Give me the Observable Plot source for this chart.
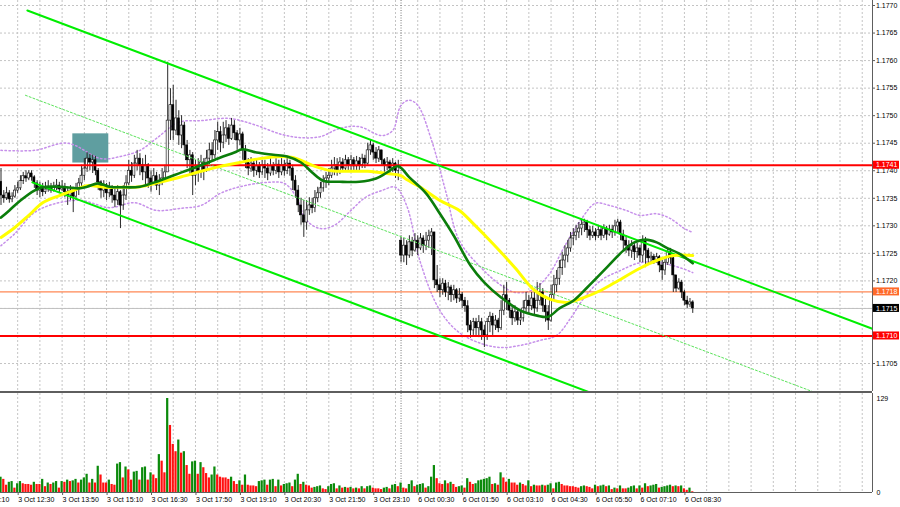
<!DOCTYPE html>
<html><head><meta charset="utf-8">
<script src="https://cdn.jsdelivr.net/npm/d3@7"></script>
<script src="https://cdn.jsdelivr.net/npm/@observablehq/plot@0.6"></script>
<style>
body{margin:0;background:#fff;}
#wrap{width:900px;height:507px;position:relative;overflow:hidden;}
#sep{height:2px;width:872px;background:#5e5e5e;}
svg{display:block;}
</style></head><body><div id="wrap"><div id="main"></div><div id="sep"></div><div id="vol"></div></div>
<script>
// ---------- data (EURUSD M5) ----------
const closes = [1.17355,1.17350,1.17359,1.17348,1.17353,1.17364,1.17368,1.17381,1.17390,1.17386,
1.17395,1.17388,1.17377,1.17364,1.17371,1.17361,1.17366,1.17371,1.17364,1.17370,
1.17373,1.17366,1.17371,1.17361,1.17355,1.17364,1.17353,1.17368,1.17377,1.17391,
1.17404,1.17422,1.17415,1.17419,1.17400,1.17379,1.17364,1.17373,1.17359,1.17370,
1.17355,1.17346,1.17361,1.17337,1.17355,1.17377,1.17400,1.17391,1.17413,1.17422,
1.17410,1.17397,1.17410,1.17386,1.17377,1.17390,1.17373,1.17379,1.17386,1.17397,
1.17491,1.17519,1.17473,1.17495,1.17464,1.17482,1.17446,1.17419,1.17428,1.17391,
1.17404,1.17397,1.17415,1.17400,1.17422,1.17437,1.17428,1.17455,1.17470,1.17451,
1.17464,1.17477,1.17458,1.17482,1.17468,1.17455,1.17466,1.17437,1.17415,1.17404,
1.17413,1.17400,1.17408,1.17397,1.17410,1.17404,1.17395,1.17408,1.17400,1.17411,
1.17397,1.17410,1.17400,1.17413,1.17404,1.17382,1.17364,1.17337,1.17319,1.17306,
1.17328,1.17337,1.17332,1.17350,1.17359,1.17368,1.17379,1.17386,1.17391,1.17404,
1.17410,1.17400,1.17415,1.17404,1.17419,1.17410,1.17419,1.17408,1.17417,1.17410,
1.17422,1.17413,1.17437,1.17446,1.17433,1.17422,1.17437,1.17419,1.17410,1.17415,
1.17404,1.17413,1.17400,1.17408,1.17246,1.17264,1.17246,1.17270,1.17255,1.17273,
1.17259,1.17277,1.17264,1.17273,1.17281,1.17288,1.17201,1.17192,1.17183,1.17195,
1.17179,1.17188,1.17174,1.17183,1.17168,1.17175,1.17164,1.17154,1.17119,1.17110,
1.17125,1.17114,1.17125,1.17110,1.17101,1.17125,1.17135,1.17119,1.17128,1.17114,
1.17146,1.17174,1.17164,1.17146,1.17132,1.17143,1.17128,1.17132,1.17150,1.17164,
1.17154,1.17168,1.17150,1.17164,1.17179,1.17155,1.17143,1.17128,1.17174,1.17192,
1.17204,1.17223,1.17237,1.17246,1.17259,1.17277,1.17282,1.17288,1.17295,1.17302,
1.17306,1.17292,1.17282,1.17288,1.17281,1.17292,1.17282,1.17295,1.17284,1.17293,
1.17288,1.17299,1.17306,1.17284,1.17273,1.17264,1.17255,1.17263,1.17252,1.17259,
1.17246,1.17273,1.17255,1.17241,1.17244,1.17237,1.17243,1.17228,1.17219,1.17233,
1.17252,1.17241,1.17210,1.17186,1.17197,1.17179,1.17164,1.17157,1.17161,1.17150];
const highs = [1.17404,1.17364,1.17370,1.17364,1.17360,1.17373,1.17379,1.17391,1.17397,1.17400,
1.17400,1.17400,1.17391,1.17382,1.17379,1.17377,1.17379,1.17382,1.17377,1.17379,
1.17384,1.17379,1.17382,1.17377,1.17370,1.17373,1.17370,1.17377,1.17386,1.17410,
1.17422,1.17433,1.17430,1.17428,1.17426,1.17404,1.17382,1.17382,1.17377,1.17379,
1.17373,1.17368,1.17373,1.17364,1.17373,1.17391,1.17419,1.17415,1.17428,1.17437,
1.17431,1.17422,1.17428,1.17413,1.17400,1.17404,1.17397,1.17393,1.17404,1.17410,
1.17597,1.17549,1.17555,1.17528,1.17509,1.17500,1.17488,1.17455,1.17437,1.17433,
1.17419,1.17422,1.17428,1.17422,1.17437,1.17450,1.17451,1.17473,1.17488,1.17480,
1.17488,1.17491,1.17484,1.17495,1.17491,1.17473,1.17477,1.17470,1.17446,1.17422,
1.17424,1.17419,1.17420,1.17415,1.17419,1.17419,1.17413,1.17422,1.17415,1.17422,
1.17419,1.17422,1.17419,1.17424,1.17419,1.17410,1.17391,1.17373,1.17350,1.17346,
1.17346,1.17351,1.17350,1.17364,1.17370,1.17379,1.17391,1.17397,1.17404,1.17419,
1.17424,1.17422,1.17424,1.17422,1.17428,1.17424,1.17428,1.17424,1.17426,1.17424,
1.17430,1.17428,1.17450,1.17455,1.17450,1.17442,1.17444,1.17437,1.17422,1.17424,
1.17419,1.17422,1.17415,1.17419,1.17279,1.17277,1.17273,1.17282,1.17279,1.17286,
1.17282,1.17286,1.17282,1.17288,1.17292,1.17295,1.17288,1.17228,1.17204,1.17204,
1.17201,1.17197,1.17192,1.17192,1.17186,1.17186,1.17179,1.17170,1.17164,1.17128,
1.17132,1.17132,1.17137,1.17132,1.17119,1.17132,1.17143,1.17141,1.17137,1.17132,
1.17164,1.17192,1.17197,1.17168,1.17155,1.17155,1.17150,1.17146,1.17164,1.17179,
1.17174,1.17179,1.17183,1.17197,1.17195,1.17186,1.17168,1.17155,1.17192,1.17210,
1.17219,1.17237,1.17252,1.17264,1.17273,1.17288,1.17295,1.17301,1.17306,1.17312,
1.17312,1.17310,1.17299,1.17299,1.17295,1.17301,1.17297,1.17302,1.17299,1.17301,
1.17301,1.17310,1.17312,1.17310,1.17292,1.17282,1.17273,1.17273,1.17268,1.17268,
1.17264,1.17282,1.17279,1.17259,1.17252,1.17248,1.17250,1.17246,1.17237,1.17241,
1.17259,1.17259,1.17246,1.17210,1.17204,1.17201,1.17183,1.17172,1.17168,1.17164];
const lows = [1.17337,1.17341,1.17346,1.17341,1.17342,1.17350,1.17359,1.17364,1.17375,1.17379,
1.17382,1.17381,1.17368,1.17355,1.17351,1.17353,1.17357,1.17361,1.17359,1.17361,
1.17364,1.17359,1.17362,1.17351,1.17337,1.17346,1.17324,1.17346,1.17355,1.17371,
1.17382,1.17397,1.17400,1.17395,1.17391,1.17364,1.17350,1.17351,1.17346,1.17351,
1.17341,1.17333,1.17337,1.17295,1.17328,1.17346,1.17373,1.17379,1.17386,1.17400,
1.17391,1.17382,1.17373,1.17368,1.17361,1.17373,1.17364,1.17355,1.17373,1.17379,
1.17397,1.17455,1.17455,1.17464,1.17446,1.17440,1.17428,1.17404,1.17391,1.17355,
1.17373,1.17379,1.17386,1.17382,1.17397,1.17410,1.17415,1.17422,1.17437,1.17433,
1.17440,1.17451,1.17446,1.17455,1.17455,1.17437,1.17446,1.17419,1.17404,1.17391,
1.17397,1.17388,1.17391,1.17386,1.17391,1.17386,1.17382,1.17390,1.17391,1.17393,
1.17386,1.17391,1.17390,1.17393,1.17390,1.17364,1.17350,1.17324,1.17301,1.17279,
1.17292,1.17319,1.17322,1.17324,1.17342,1.17350,1.17361,1.17368,1.17373,1.17386,
1.17391,1.17390,1.17393,1.17397,1.17400,1.17397,1.17400,1.17397,1.17400,1.17400,
1.17404,1.17404,1.17410,1.17428,1.17419,1.17413,1.17415,1.17410,1.17397,1.17400,
1.17395,1.17397,1.17386,1.17382,1.17233,1.17233,1.17228,1.17241,1.17244,1.17252,
1.17246,1.17255,1.17250,1.17255,1.17259,1.17246,1.17186,1.17179,1.17170,1.17174,
1.17170,1.17164,1.17161,1.17164,1.17159,1.17161,1.17150,1.17143,1.17106,1.17096,
1.17101,1.17101,1.17097,1.17092,1.17079,1.17092,1.17106,1.17101,1.17110,1.17106,
1.17110,1.17137,1.17146,1.17132,1.17119,1.17125,1.17119,1.17119,1.17125,1.17143,
1.17139,1.17146,1.17137,1.17143,1.17155,1.17143,1.17125,1.17110,1.17125,1.17164,
1.17179,1.17192,1.17210,1.17223,1.17233,1.17252,1.17264,1.17273,1.17277,1.17282,
1.17288,1.17277,1.17273,1.17277,1.17273,1.17277,1.17273,1.17277,1.17273,1.17281,
1.17277,1.17281,1.17288,1.17273,1.17255,1.17250,1.17244,1.17241,1.17237,1.17241,
1.17233,1.17233,1.17224,1.17228,1.17233,1.17230,1.17232,1.17215,1.17201,1.17210,
1.17228,1.17230,1.17179,1.17179,1.17183,1.17168,1.17155,1.17150,1.17152,1.17141];
const volumes = [21,18,10,14,15,6,12,15,12,11, 11,10,14,11,11,18,8,13,11,13,
15,6,15,14,17,15,16,18,13,17, 20,25,13,18,13,36,24,13,13,17,
11,10,39,41,20,35,31,17,28,29, 17,34,35,17,27,24,19,52,43,27,
129,92,66,56,72,54,56,37,25,42, 43,25,41,34,26,20,24,35,24,21,
20,20,18,21,15,11,16,10,24,10, 9,9,8,15,16,17,10,17,18,8,
17,9,11,12,13,8,17,25,11,14, 10,9,6,7,8,9,5,4,8,11,
12,5,9,6,7,6,7,5,6,5, 8,5,8,9,6,5,5,4,6,7,
5,10,11,8,13,6,5,11,16,8, 10,11,12,6,8,21,37,19,12,11,
16,12,14,11,7,8,9,6,19,14, 11,12,16,17,18,19,21,11,12,10,
27,20,14,18,13,13,10,13,11,9, 16,8,10,9,9,10,9,10,12,5,
13,14,11,9,9,8,8,7,6,8, 9,8,7,5,10,8,9,10,8,9,
4,6,5,9,5,5,6,8,9,5, 9,6,12,8,9,10,11,6,7,8,
9,10,8,9,8,9,5,3,6,1];
const firstOpen = 1.17380;      // open of the first visible bar
const gapIndex = 144;           // first bar of 6 Oct (weekend gap)
const gapOpen = 1.17273;

// moving averages and envelope bands (bar index, price)
const maFastIdx = [0,3,7,12,15,21,28,31,35,39,44,50,57,65,72,79,84,87,92,98,103,108,112,116,122,129,135,139,143,147,153,158,163,169,174,180,187,193,197,201,206,211,218,224,228,232,236,240,244,249];
const maFastVal = [1.17315,1.17328,1.17346,1.17364,1.17370,1.17371,1.17368,1.17371,1.17377,1.17371,1.17370,1.17371,1.17382,1.17397,1.17410,1.17424,1.17433,1.17439,1.17433,1.17429,1.17426,1.17415,1.17397,1.17382,1.17380,1.17380,1.17386,1.17397,1.17408,1.17388,1.17359,1.17322,1.17282,1.17228,1.17197,1.17170,1.17146,1.17137,1.17135,1.17150,1.17164,1.17188,1.17224,1.17255,1.17270,1.17275,1.17270,1.17259,1.17250,1.17232];
const maSlowIdx = [0,5,10,15,21,26,31,37,43,50,57,65,72,79,86,93,101,105,108,113,119,126,132,139,144,146,151,158,165,170,177,185,192,198,204,210,216,221,230,236,242,249];
const maSlowVal = [1.17279,1.17297,1.17319,1.17342,1.17355,1.17364,1.17373,1.17370,1.17370,1.17371,1.17379,1.17389,1.17399,1.17408,1.17415,1.17422,1.17426,1.17424,1.17419,1.17408,1.17400,1.17399,1.17399,1.17395,1.17391,1.17384,1.17370,1.17346,1.17328,1.17304,1.17268,1.17224,1.17183,1.17166,1.17161,1.17170,1.17183,1.17197,1.17223,1.17237,1.17246,1.17246];
const bandUpIdx = [0,12,24,36,43,50,56,64,72,82,91,101,108,115,122,129,137,141,144,147,150,155,160,165,173,180,185,191,197,203,209,214,219,225,230,236,241,246,249];
const bandUpVal = [1.17437,1.17437,1.17450,1.17422,1.17426,1.17437,1.17459,1.17488,1.17491,1.17495,1.17484,1.17466,1.17460,1.17462,1.17477,1.17480,1.17464,1.17473,1.17519,1.17528,1.17519,1.17455,1.17364,1.17273,1.17223,1.17192,1.17179,1.17183,1.17210,1.17264,1.17313,1.17341,1.17337,1.17328,1.17319,1.17322,1.17313,1.17295,1.17288];
const bandLoIdx = [0,5,12,20,29,39,48,56,65,72,79,86,96,102,106,110,115,120,126,131,137,142,146,151,158,165,173,180,187,194,200,205,210,216,223,230,237,245,249];
const bandLoVal = [1.17264,1.17286,1.17324,1.17341,1.17346,1.17333,1.17342,1.17328,1.17332,1.17337,1.17359,1.17371,1.17379,1.17377,1.17355,1.17310,1.17295,1.17301,1.17328,1.17351,1.17364,1.17370,1.17337,1.17233,1.17146,1.17106,1.17086,1.17079,1.17083,1.17092,1.17101,1.17132,1.17170,1.17201,1.17219,1.17233,1.17233,1.17223,1.17215];

// drawn objects
const chanUpIdx = [9.5, 313.7],  chanUpVal = [1.17691, 1.17113];
const chanLoIdx = [11.3, 212.2], chanLoVal = [1.17379, 1.16997];
const chanMidIdx = [8.8, 293.2], chanMidVal = [1.17537, 1.16997];
const boxIdx = [25.85, 38.8], boxVal = [1.17414, 1.17467];
const levelPrices = [1.1741, 1.1710];
const tagPrices = [1.1741, 1.1718, 1.1715, 1.1710];
const tagLabels = ["1.1741", "1.1718", "1.1715", "1.1710"];

// axes
const priceTicks = [1.1705,1.1710,1.1715,1.1720,1.1725,1.1730,1.1735,1.1740,1.1745,1.1750,1.1755,1.1760,1.1765,1.1770];
const volTicks = [0, 129];
const timeIdx = [-10,6,22,38,54,70,86,102,118,134,150,166,182,198,214,230,246];
const timeLabels = ["3 Oct 11:10","3 Oct 12:30","3 Oct 13:50","3 Oct 15:10","3 Oct 16:30","3 Oct 17:50","3 Oct 19:10","3 Oct 20:30","3 Oct 21:50","3 Oct 23:10","6 Oct 00:30","6 Oct 01:50","6 Oct 03:10","6 Oct 04:30","6 Oct 05:50","6 Oct 07:10","6 Oct 08:30"];
const dayBreakIdx = [144];

// ---------- build ----------
const bars = closes.map((c, i) => {
  const o = i === 0 ? firstOpen : (i === gapIndex ? gapOpen : closes[i - 1]);
  return {i, o, c, h: Math.max(highs[i], o, c), l: Math.min(lows[i], o, c), v: volumes[i],
          up: c >= o, vUp: i === 0 ? true : volumes[i] > volumes[i - 1]};
});
const pairs = (a, b) => a.map((x, k) => ({i: x, p: b[k]}));
const gridIdx = d3.range(-2, 316, 8);
const xDomain = [-0.18, 313.7];
const xEnd = xDomain[1];
const FONT = "'Liberation Sans', Arial, sans-serif";
const GRID = "#c4c4c4";
const BAND = "#c690ea";
const tagFill = ["#ff0000", "#ff6a2a", "#000000", "#ff0000"];

const main = Plot.plot({
  width: 900, height: 391, marginTop: 0, marginBottom: 0, marginLeft: 0, marginRight: 28,
  x: {domain: xDomain, axis: null},
  y: {domain: [1.169992, 1.177091], axis: null},
  style: {fontFamily: FONT, fontSize: "7px", background: "transparent", color: "#000"},
  marks: [
    Plot.ruleY(priceTicks, {stroke: GRID, strokeDasharray: "2,2"}),
    Plot.ruleX(gridIdx, {stroke: GRID, strokeDasharray: "2,2"}),
    Plot.ruleX(dayBreakIdx, {stroke: "#777", strokeDasharray: "1,1.5"}),
    Plot.rect([0], {x1: () => boxIdx[0], x2: () => boxIdx[1], y1: () => boxVal[0], y2: () => boxVal[1], fill: "#5f9ea0"}),
    Plot.line(pairs(bandUpIdx, bandUpVal), {x: "i", y: "p", stroke: BAND, strokeDasharray: "1.5,2.5", curve: "catmull-rom", clip: true}),
    Plot.line(pairs(bandLoIdx, bandLoVal), {x: "i", y: "p", stroke: BAND, strokeDasharray: "1.5,2.5", curve: "catmull-rom", clip: true}),
    Plot.ruleY([tagPrices[1]], {stroke: "#ff6a2a", strokeWidth: 1}),
    Plot.ruleY([tagPrices[2]], {stroke: "#c0c0c0", strokeWidth: 1}),
    Plot.ruleX(bars, {x: "i", y1: "l", y2: "h", stroke: "#2a2a2a", strokeWidth: 1}),
    Plot.rect(bars, {x1: d => d.i - 0.38, x2: d => d.i + 0.38, y1: "o", y2: "c",
      fill: d => d.up ? "#ffffff" : "#000000", stroke: "#000", strokeWidth: 0.6}),
    Plot.ruleY(levelPrices, {stroke: "#ff0000", strokeWidth: 2}),
    Plot.line(pairs(chanMidIdx, chanMidVal), {x: "i", y: "p", stroke: "#5be35b", strokeWidth: 1, strokeDasharray: "2,2", clip: true}),
    Plot.line(pairs(chanUpIdx, chanUpVal), {x: "i", y: "p", stroke: "#00ee00", strokeWidth: 2, clip: true}),
    Plot.line(pairs(chanLoIdx, chanLoVal), {x: "i", y: "p", stroke: "#00ee00", strokeWidth: 2, clip: true}),
    Plot.line(pairs(maSlowIdx, maSlowVal), {x: "i", y: "p", stroke: "#ffff00", strokeWidth: 3, curve: "catmull-rom"}),
    Plot.line(pairs(maFastIdx, maFastVal), {x: "i", y: "p", stroke: "#0b7d0b", strokeWidth: 2.6, curve: "catmull-rom"}),
    Plot.ruleX([xEnd], {stroke: "#5e5e5e", strokeWidth: 1}),
    Plot.axisY({anchor: "right", ticks: priceTicks, tickFormat: d => d.toFixed(4), tickSize: 2, tickPadding: 1.5,
      label: null, fontSize: 7, fontFamily: FONT, stroke: "#5e5e5e"}),
    Plot.rect(tagPrices, {x1: () => xEnd, x2: () => xEnd, y1: d => d, y2: d => d,
      insetLeft: 0.8, insetRight: -27, insetTop: -4, insetBottom: -4, fill: (d, k) => tagFill[k]}),
    Plot.text(tagPrices, {x: () => xEnd, y: d => d, text: (d, k) => tagLabels[k], textAnchor: "start", dx: 3.5,
      fill: "#ffffff", fontSize: 7, fontFamily: FONT})
  ]
});
document.getElementById("main").appendChild(main);

const vol = Plot.plot({
  width: 900, height: 114, marginTop: 5, marginBottom: 15, marginLeft: 0, marginRight: 28,
  x: {domain: xDomain, axis: null},
  y: {domain: [0, 129], axis: null},
  style: {fontFamily: FONT, fontSize: "7px", background: "transparent", color: "#000"},
  marks: [
    Plot.ruleX(gridIdx, {stroke: GRID, strokeDasharray: "2,2", insetTop: -5}),
    Plot.ruleX(dayBreakIdx, {stroke: "#777", strokeDasharray: "1,1.5", insetTop: -5}),
    Plot.rect(bars, {x1: d => d.i - 0.4, x2: d => d.i + 0.4, y1: 0, y2: "v",
      fill: d => d.vUp ? "#0b8a0b" : "#ff1010"}),
    Plot.ruleY([0], {stroke: "#5e5e5e"}),
    Plot.ruleX([xEnd], {stroke: "#5e5e5e", insetTop: -5}),
    Plot.axisY({anchor: "right", ticks: volTicks, tickSize: 0, tickPadding: 4, label: null, fontSize: 7, fontFamily: FONT}),
    Plot.axisX({anchor: "bottom", ticks: timeIdx, tickFormat: d => timeLabels[timeIdx.indexOf(d)], label: null,
      textAnchor: "start", tickSize: 3, tickPadding: 1.5, dx: 0.5, fontSize: 7, fontFamily: FONT, stroke: "#5e5e5e"})
  ]
});
document.getElementById("vol").appendChild(vol);
</script>
</body></html>
